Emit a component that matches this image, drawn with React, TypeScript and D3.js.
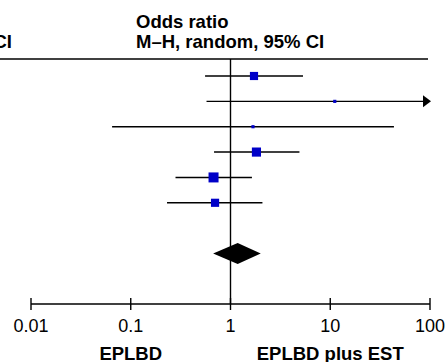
import React, { useEffect, useRef } from "react";
import * as d3 from "d3";

// study rows (odds ratio, 95% CI)
const orValues = [1.72, 11.1, 1.68, 1.82, 0.676, 0.7];
const ciLow = [0.556, 0.575, 0.065, 0.684, 0.281, 0.231];
const ciHigh = [5.33, 250, 43.5, 4.91, 1.64, 2.09];
const weights = [20, 3, 3, 25, 30, 20];

// pooled estimate
const pooled = { or: 1.18, lo: 0.67, hi: 2.01 };

const tickValues = [0.01, 0.1, 1, 10, 100];
const tickLabels = ["0.01", "0.1", "1", "10", "100"];
const favourLabels = ["EPLBD", "EPLBD plus EST"];

const App = () => {
  const svgRef = useRef<SVGSVGElement>(null);

  useEffect(() => {
    const width = 446;
    const height = 362;
    const svg = d3.select(svgRef.current);
    svg.selectAll("*").remove();
    svg.attr("width", width).attr("height", height);

    const font = "Liberation Sans, Arial, sans-serif";
    const x = d3.scaleLog().domain([0.01, 100]).range([31, 430]);
    const y = d3.scaleLinear().domain([0, 7]).range([76, 253.5]);
    const size = d3.scaleSqrt().domain([0, 30]).range([0, 10]);
    const axisY = 304;
    const topY = 59;
    const sw = 1.4;

    // header
    const head = svg
      .append("g")
      .attr("font-family", font)
      .attr("font-weight", "bold")
      .attr("font-size", 18.5)
      .attr("fill", "#000");
    head.append("text").attr("x", 136).attr("y", 28).text("Odds ratio");
    head.append("text").attr("x", 136).attr("y", 48).text("M–H, random, 95% CI");
    head
      .append("text")
      .attr("x", 12)
      .attr("y", 48)
      .attr("text-anchor", "end")
      .text("M–H, random, 95% CI");

    svg
      .append("line")
      .attr("x1", 0)
      .attr("x2", 428)
      .attr("y1", topY)
      .attr("y2", topY)
      .attr("stroke", "#000")
      .attr("stroke-width", sw);

    // line of no effect
    svg
      .append("line")
      .attr("x1", x(1))
      .attr("x2", x(1))
      .attr("y1", topY)
      .attr("y2", axisY)
      .attr("stroke", "#000")
      .attr("stroke-width", sw);

    const [xMin, xMax] = x.domain();
    const rows = orValues.map((v, i) => ({
      or: v,
      lo: ciLow[i],
      hi: ciHigh[i],
      w: weights[i],
      i,
    }));

    const g = svg.append("g");
    g.selectAll("line.ci")
      .data(rows)
      .enter()
      .append("line")
      .attr("class", "ci")
      .attr("x1", (d) => x(Math.max(d.lo, xMin)))
      .attr("x2", (d) => x(Math.min(d.hi, xMax)) - (d.hi > xMax ? 5 : 0))
      .attr("y1", (d) => y(d.i))
      .attr("y2", (d) => y(d.i))
      .attr("stroke", "#000")
      .attr("stroke-width", sw);

    // arrows for CIs beyond the axis
    g.selectAll("path.arrow")
      .data(rows.filter((d) => d.hi > xMax))
      .enter()
      .append("path")
      .attr("class", "arrow")
      .attr("d", (d) => {
        const xe = x(xMax) + 1;
        const yy = y(d.i);
        return `M${xe},${yy} L${xe - 8},${yy - 6} L${xe - 8},${yy + 6} Z`;
      })
      .attr("fill", "#000");

    g.selectAll("rect.box")
      .data(rows)
      .enter()
      .append("rect")
      .attr("class", "box")
      .attr("x", (d) => x(d.or) - size(d.w) / 2)
      .attr("y", (d) => y(d.i) - size(d.w) / 2)
      .attr("width", (d) => size(d.w))
      .attr("height", (d) => size(d.w))
      .attr("fill", "#0000c8");

    // pooled diamond
    const dy = y(7);
    svg
      .append("path")
      .attr(
        "d",
        `M${x(pooled.lo)},${dy} L${x(pooled.or)},${dy - 10.5} L${x(pooled.hi)},${dy} L${x(pooled.or)},${dy + 10.5} Z`
      )
      .attr("fill", "#000");

    // axis
    const axis = svg.append("g").attr("transform", `translate(0,${axisY})`);
    axis
      .append("line")
      .attr("x1", x(xMin))
      .attr("x2", x(xMax))
      .attr("stroke", "#000")
      .attr("stroke-width", sw);
    axis
      .selectAll("line.tick")
      .data(tickValues)
      .enter()
      .append("line")
      .attr("class", "tick")
      .attr("x1", (d) => x(d))
      .attr("x2", (d) => x(d))
      .attr("y1", -6)
      .attr("y2", 6)
      .attr("stroke", "#000")
      .attr("stroke-width", sw);
    axis
      .selectAll("text")
      .data(tickValues)
      .enter()
      .append("text")
      .attr("x", (d) => x(d))
      .attr("y", 28)
      .attr("text-anchor", "middle")
      .attr("font-family", font)
      .attr("font-size", 18)
      .text((d, i) => tickLabels[i]);

    // favours labels
    svg
      .selectAll("text.fav")
      .data(favourLabels)
      .enter()
      .append("text")
      .attr("class", "fav")
      .attr("x", (d, i) => x(i === 0 ? 0.1 : 10))
      .attr("y", 360)
      .attr("text-anchor", "middle")
      .attr("font-family", font)
      .attr("font-weight", "bold")
      .attr("font-size", 18.5)
      .text((d) => d);
  }, []);

  return (
    <svg
      ref={svgRef}
      style={{ position: "absolute", left: 0, top: 0, background: "#fff" }}
    ></svg>
  );
};

export default App;
